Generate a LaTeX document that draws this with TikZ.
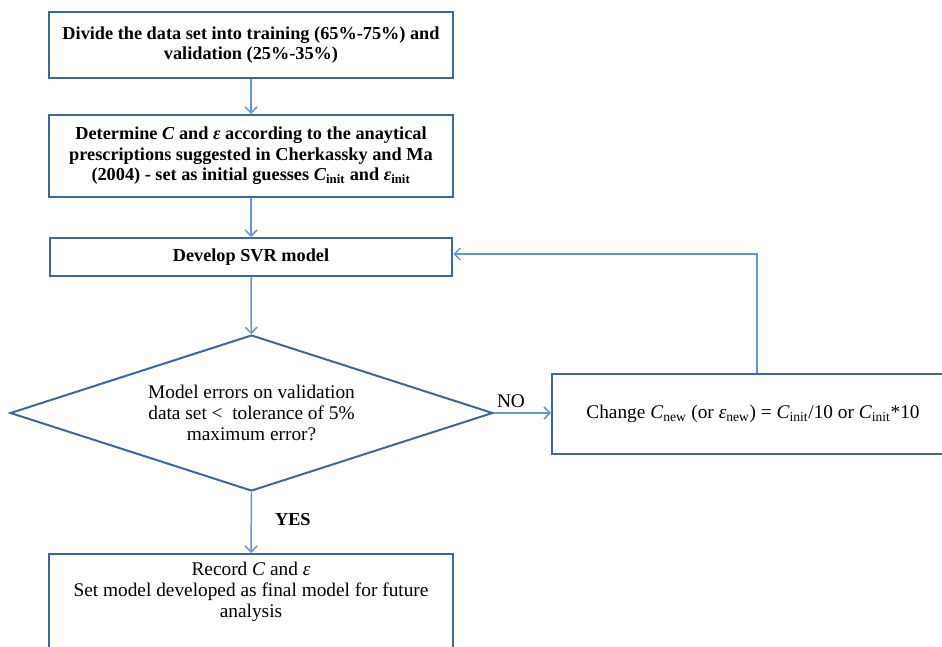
\documentclass[tikz,border=0pt]{standalone}
\usepackage{fontspec}
\setmainfont{Liberation Serif}
\usetikzlibrary{shapes.geometric,arrows.meta}
\definecolor{boxblue}{RGB}{62,102,160}
\definecolor{lineblue}{RGB}{100,148,214}
\begin{document}
\begin{tikzpicture}[x=0.75pt,y=-0.75pt,
        box/.style={draw=boxblue,line width=1.5pt,align=center,font=\fontsize{14.5}{16}\selectfont},
        boldbox/.style={box,font=\fontsize{13.7}{15.5}\selectfont\bfseries},
        flow/.style={draw=lineblue,line width=1.1pt,-{Straight Barb[length=4.5pt,width=9pt]}},
        tag/.style={font=\fontsize{14.5}{16}\selectfont}]
    \useasboundingbox (0,0) rectangle (942,646);
    \node[boldbox,minimum width=303pt,minimum height=49.5pt] (divide) at (251,45) {Divide the data set into training (65\%-75\%) and\\validation (25\%-35\%)};
    \node[boldbox,minimum width=303pt,minimum height=61.5pt] (determine) at (251,156) {Determine \textit{C} and \textit{ε} according to the anaytical\\prescriptions suggested in Cherkassky and Ma\\(2004) - set as initial guesses \textit{C}\textsubscript{init} and \textit{ε}\textsubscript{init}};
    \node[boldbox,minimum width=302pt,minimum height=28.5pt] (develop) at (251,257) {Develop SVR model};
    \node[box,diamond,aspect=3.1,inner sep=0pt,minimum width=362pt,minimum height=117pt] (check) at (251.5,413) {Model errors on validation\\data set <~ tolerance of 5\%\\maximum error?};
    \node[box,minimum width=295.5pt,minimum height=60pt] (change) at (749,414) {\hspace{6pt}Change \textit{C}\textsubscript{new} (or \textit{ε}\textsubscript{new}) = \textit{C}\textsubscript{init}/10 or \textit{C}\textsubscript{init}*10};
    \node[box,minimum width=303pt,minimum height=110pt,anchor=north] (record) at (251,553) {};
    \node[tag,align=center,anchor=north] (recordtext) at (251,557) {Record \textit{C} and \textit{ε}\\Set model developed as final model for future\\analysis};
    \coordinate (back) at (757,254);
    % arrows between the steps
    \draw[flow] (divide) -- (determine);
    \draw[flow] (determine) -- (develop);
    \draw[flow] (develop) -- (check);
    \draw[flow] (check.south) -- node[font=\fontsize{13.7}{15.5}\selectfont\bfseries,right=14pt,pos=0.45] (yes) {YES} (record.north);
    \draw[flow] (check.east) -- node[tag,above,pos=0.3] (no) {NO} (check.east -| change.west);
    \draw[flow] (change.north -| back) -- (back) -- (develop.east |- back);
\end{tikzpicture}
\end{document}
